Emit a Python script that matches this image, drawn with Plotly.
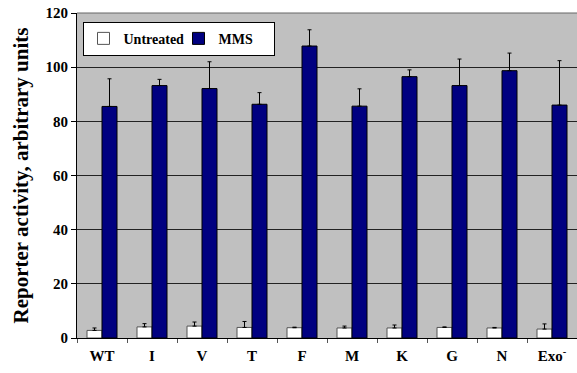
import plotly.graph_objects as go

# Reporter activity per strain, untreated vs. MMS-treated
strains = ["WT", "I", "V", "T", "F", "M", "K", "G", "N", "Exo<sup>-</sup>"]
untreated = [2.8, 4.1, 4.4, 3.9, 3.8, 3.7, 3.7, 3.9, 3.7, 3.3]
untreated_err = [0.9, 1.2, 1.5, 2.2, 0.2, 0.7, 1.1, 0.2, 0.2, 1.9]
mms = [85.5, 93.2, 92.1, 86.3, 107.8, 85.6, 96.5, 93.2, 98.7, 86.0]
mms_err = [10.2, 2.3, 9.9, 4.3, 6.0, 6.4, 2.5, 9.8, 6.5, 16.4]

serif = "Liberation Serif"

fig = go.Figure()
fig.add_trace(go.Bar(
    name="Untreated", x=strains, y=untreated,
    marker=dict(color="white", line=dict(color="#555555", width=1)),
    error_y=dict(type="data", array=untreated_err, symmetric=False,
                 arrayminus=[0] * len(untreated_err),
                 color="black", thickness=1, width=2),
))
fig.add_trace(go.Bar(
    name="MMS", x=strains, y=mms,
    marker=dict(color="#000080", line=dict(color="black", width=1)),
    error_y=dict(type="data", array=mms_err, symmetric=False,
                 arrayminus=[0] * len(mms_err),
                 color="black", thickness=1, width=2),
))

fig.update_layout(
    width=577, height=373,
    margin=dict(l=77, r=0, t=13, b=35),
    paper_bgcolor="white",
    plot_bgcolor="#C0C0C0",
    barmode="group", bargap=0.4, bargroupgap=0,
    font=dict(family=serif, color="black"),
    showlegend=True,
    legend=dict(
        orientation="h", x=0.011, y=0.973, xanchor="left", yanchor="top",
        bgcolor="white", bordercolor="black", borderwidth=1,
        font=dict(family=serif, size=14, color="black", weight="bold"),
        entrywidth=50, entrywidthmode="pixels",
        traceorder="normal",
    ),
)
fig.update_xaxes(
    type="category", tickson="boundaries", ticks="outside", ticklen=4,
    tickcolor="#555555", showline=True, linecolor="black", linewidth=1,
    ticklabelstandoff=4,
    tickfont=dict(family=serif, size=15, color="black", weight="bold"),
    showgrid=False,
)
fig.update_yaxes(
    range=[0, 120], dtick=20, ticks="outside", ticklen=5, tickcolor="black",
    showline=True, linecolor="black", linewidth=1,
    showgrid=True, gridcolor="#222222", gridwidth=1, zeroline=False,
    tickfont=dict(family=serif, size=15, color="black", weight="bold"),
    title=dict(text="Reporter activity, arbitrary units", standoff=11,
               font=dict(family=serif, size=21, color="black", weight="bold")),
)
# frame along the top of the plot area
fig.add_shape(type="line", xref="paper", yref="paper", x0=0, x1=1, y0=1, y1=1,
              line=dict(color="#666666", width=1))

fig.write_html("out.html")
